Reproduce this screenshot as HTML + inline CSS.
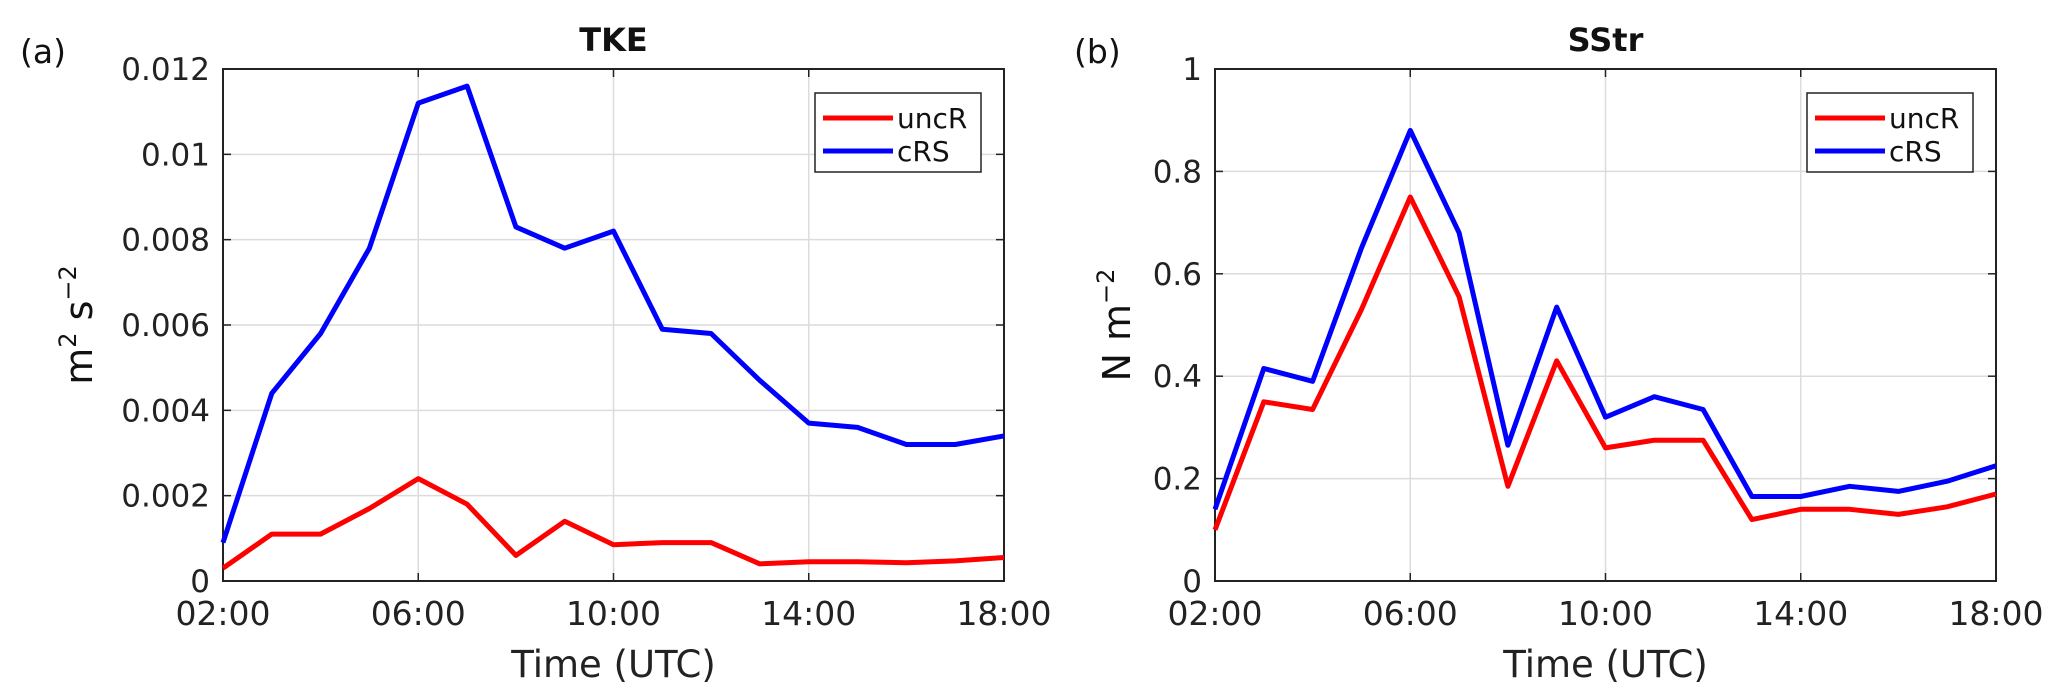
<!DOCTYPE html>
<html><head><meta charset="utf-8"><style>
html,body{margin:0;padding:0;background:#fff;}
svg{display:block;font-family:"DejaVu Sans","Liberation Sans",sans-serif;}
</style></head><body>
<svg id="c" width="2067" height="698" viewBox="0 0 2067 698" xmlns="http://www.w3.org/2000/svg"></svg>
<script>
const hours = [2,3,4,5,6,7,8,9,10,11,12,13,14,15,16,17,18];
const xTickHours = [2,6,10,14,18];
const xTickLabels = ["02:00","06:00","10:00","14:00","18:00"];
const tkeUncR = [0.0003,0.0011,0.0011,0.0017,0.0024,0.0018,0.0006,0.0014,0.00085,0.0009,0.0009,0.0004,0.00045,0.00045,0.00043,0.00047,0.00055];
const tkeCRS = [0.0009,0.0044,0.0058,0.0078,0.0112,0.0116,0.0083,0.0078,0.0082,0.0059,0.0058,0.0047,0.0037,0.0036,0.0032,0.0032,0.0034];
const tkeTicks = [0,0.002,0.004,0.006,0.008,0.01,0.012];
const tkeTickLabels = ["0","0.002","0.004","0.006","0.008","0.01","0.012"];
const sstrUncR = [0.10,0.35,0.335,0.53,0.75,0.555,0.185,0.43,0.26,0.275,0.275,0.12,0.14,0.14,0.13,0.145,0.17];
const sstrCRS = [0.14,0.415,0.39,0.65,0.88,0.68,0.265,0.535,0.32,0.36,0.335,0.165,0.165,0.185,0.175,0.195,0.225];
const sstrTicks = [0,0.2,0.4,0.6,0.8,1];
const sstrTickLabels = ["0","0.2","0.4","0.6","0.8","1"];

const svg = document.getElementById('c');
const NS = "http://www.w3.org/2000/svg";
function mk(tag, attrs, parent, text){
  const e = document.createElementNS(NS, tag);
  for (const k in attrs) e.setAttribute(k, attrs[k]);
  if (text !== undefined) e.textContent = text;
  (parent||svg).appendChild(e);
  return e;
}

function panel(opt){
  const L=opt.x0, R=opt.x1, T=69, B=581;
  const g = mk('g',{});
  
  
  const xs = h => L + (h-2)/16*(R-L);
  const ys = v => B - v/opt.ymax*(B-T);
  opt.ticks.forEach((t,i)=>{
    const y = ys(t);
    if (i>0 && i<opt.ticks.length-1){
      const gl = mk('line',{x1:L,x2:R,y1:y,y2:y,stroke:'#dcdcdc','stroke-width':1.5},g);
      
      
    }
    const tk = mk('line',{x1:L,x2:L+8,y1:y,y2:y,stroke:'#222','stroke-width':1.5},g);
    
    
    const tk2 = mk('line',{x1:R-8,x2:R,y1:y,y2:y,stroke:'#222','stroke-width':1.5},g);
    
    
    const tl = mk('text',{x:L-13,y:y+11,'text-anchor':'end','font-size':31,fill:'#222'},g,opt.tickLabels[i]);
    
    
  });
  xTickHours.forEach((h,i)=>{
    const x = xs(h);
    if (i>0 && i<xTickHours.length-1){
      const gl = mk('line',{x1:x,x2:x,y1:T,y2:B,stroke:'#dcdcdc','stroke-width':1.5},g);
      
      
    }
    const tk = mk('line',{x1:x,x2:x,y1:B,y2:B-8,stroke:'#222','stroke-width':1.5},g);
    
    
    const tk2 = mk('line',{x1:x,x2:x,y1:T,y2:T+8,stroke:'#222','stroke-width':1.5},g);
    
    
    const tl = mk('text',{x:x,y:625,'text-anchor':'middle','font-size':33,fill:'#222'},g,xTickLabels[i]);
    
    
  });
  const box = mk('rect',{x:L,y:T,width:R-L,height:B-T,fill:'none',stroke:'#222','stroke-width':2},g);
  
  
  [[opt.red,'#ff0000','uncr-line'],[opt.blue,'#0000ff','crs-line']].forEach(([arr,col,nm])=>{
    const pts = arr.map((v,i)=>xs(hours[i]).toFixed(1)+','+ys(v).toFixed(1)).join(' ');
    const pl = mk('polyline',{points:pts,fill:'none',stroke:col,'stroke-width':5,'stroke-linejoin':'round'},g);
    
    
  });
  const ttl = mk('text',{x:(L+R)/2,y:51,'text-anchor':'middle','font-size':32,'font-weight':'bold',fill:'#111'},g,opt.title);
  
  
  const xl = mk('text',{x:(L+R)/2,y:677,'text-anchor':'middle','font-size':37,fill:'#222'},g,'Time (UTC)');
  
  
  const pan = mk('text',{x:opt.panX,y:63,'font-size':33,fill:'#111'},g,opt.panel);
  
  
  const lx = R-23-166, ly = 93;
  const lg = mk('g',{},g);
  
  
  mk('rect',{x:lx,y:ly,width:166,height:79,fill:'#fff',stroke:'#222','stroke-width':1.5},lg);
  [['uncR','#ff0000',ly+25],['cRS','#0000ff',ly+58]].forEach(([t,c,y])=>{
    const e = mk('g',{},lg);
    
    
    mk('line',{x1:lx+8,x2:lx+78,y1:y,y2:y,stroke:c,'stroke-width':5},e);
    mk('text',{x:lx+82,y:y+10,'font-size':28,fill:'#111'},e,t);
  });
  return g;
}

panel({name:'tke-panel',x0:223,x1:1004,ymax:0.012,ticks:tkeTicks,tickLabels:tkeTickLabels,red:tkeUncR,blue:tkeCRS,title:'TKE',panel:'(a)',panX:20});
panel({name:'sstr-panel',x0:1215,x1:1996,ymax:1,ticks:sstrTicks,tickLabels:sstrTickLabels,red:sstrUncR,blue:sstrCRS,title:'SStr',panel:'(b)',panX:1074});

const yl1 = mk('text',{transform:'translate(92,325) rotate(-90)','text-anchor':'middle','font-size':38,fill:'#111'});


yl1.innerHTML = 'm<tspan font-size="24" dy="-16">2</tspan><tspan dy="16"> s</tspan><tspan font-size="24" dy="-16">−2</tspan>';
const yl2 = mk('text',{transform:'translate(1130,325) rotate(-90)','text-anchor':'middle','font-size':38,fill:'#111'});


yl2.innerHTML = 'N m<tspan font-size="24" dy="-16">−2</tspan>';
</script>
</body></html>
